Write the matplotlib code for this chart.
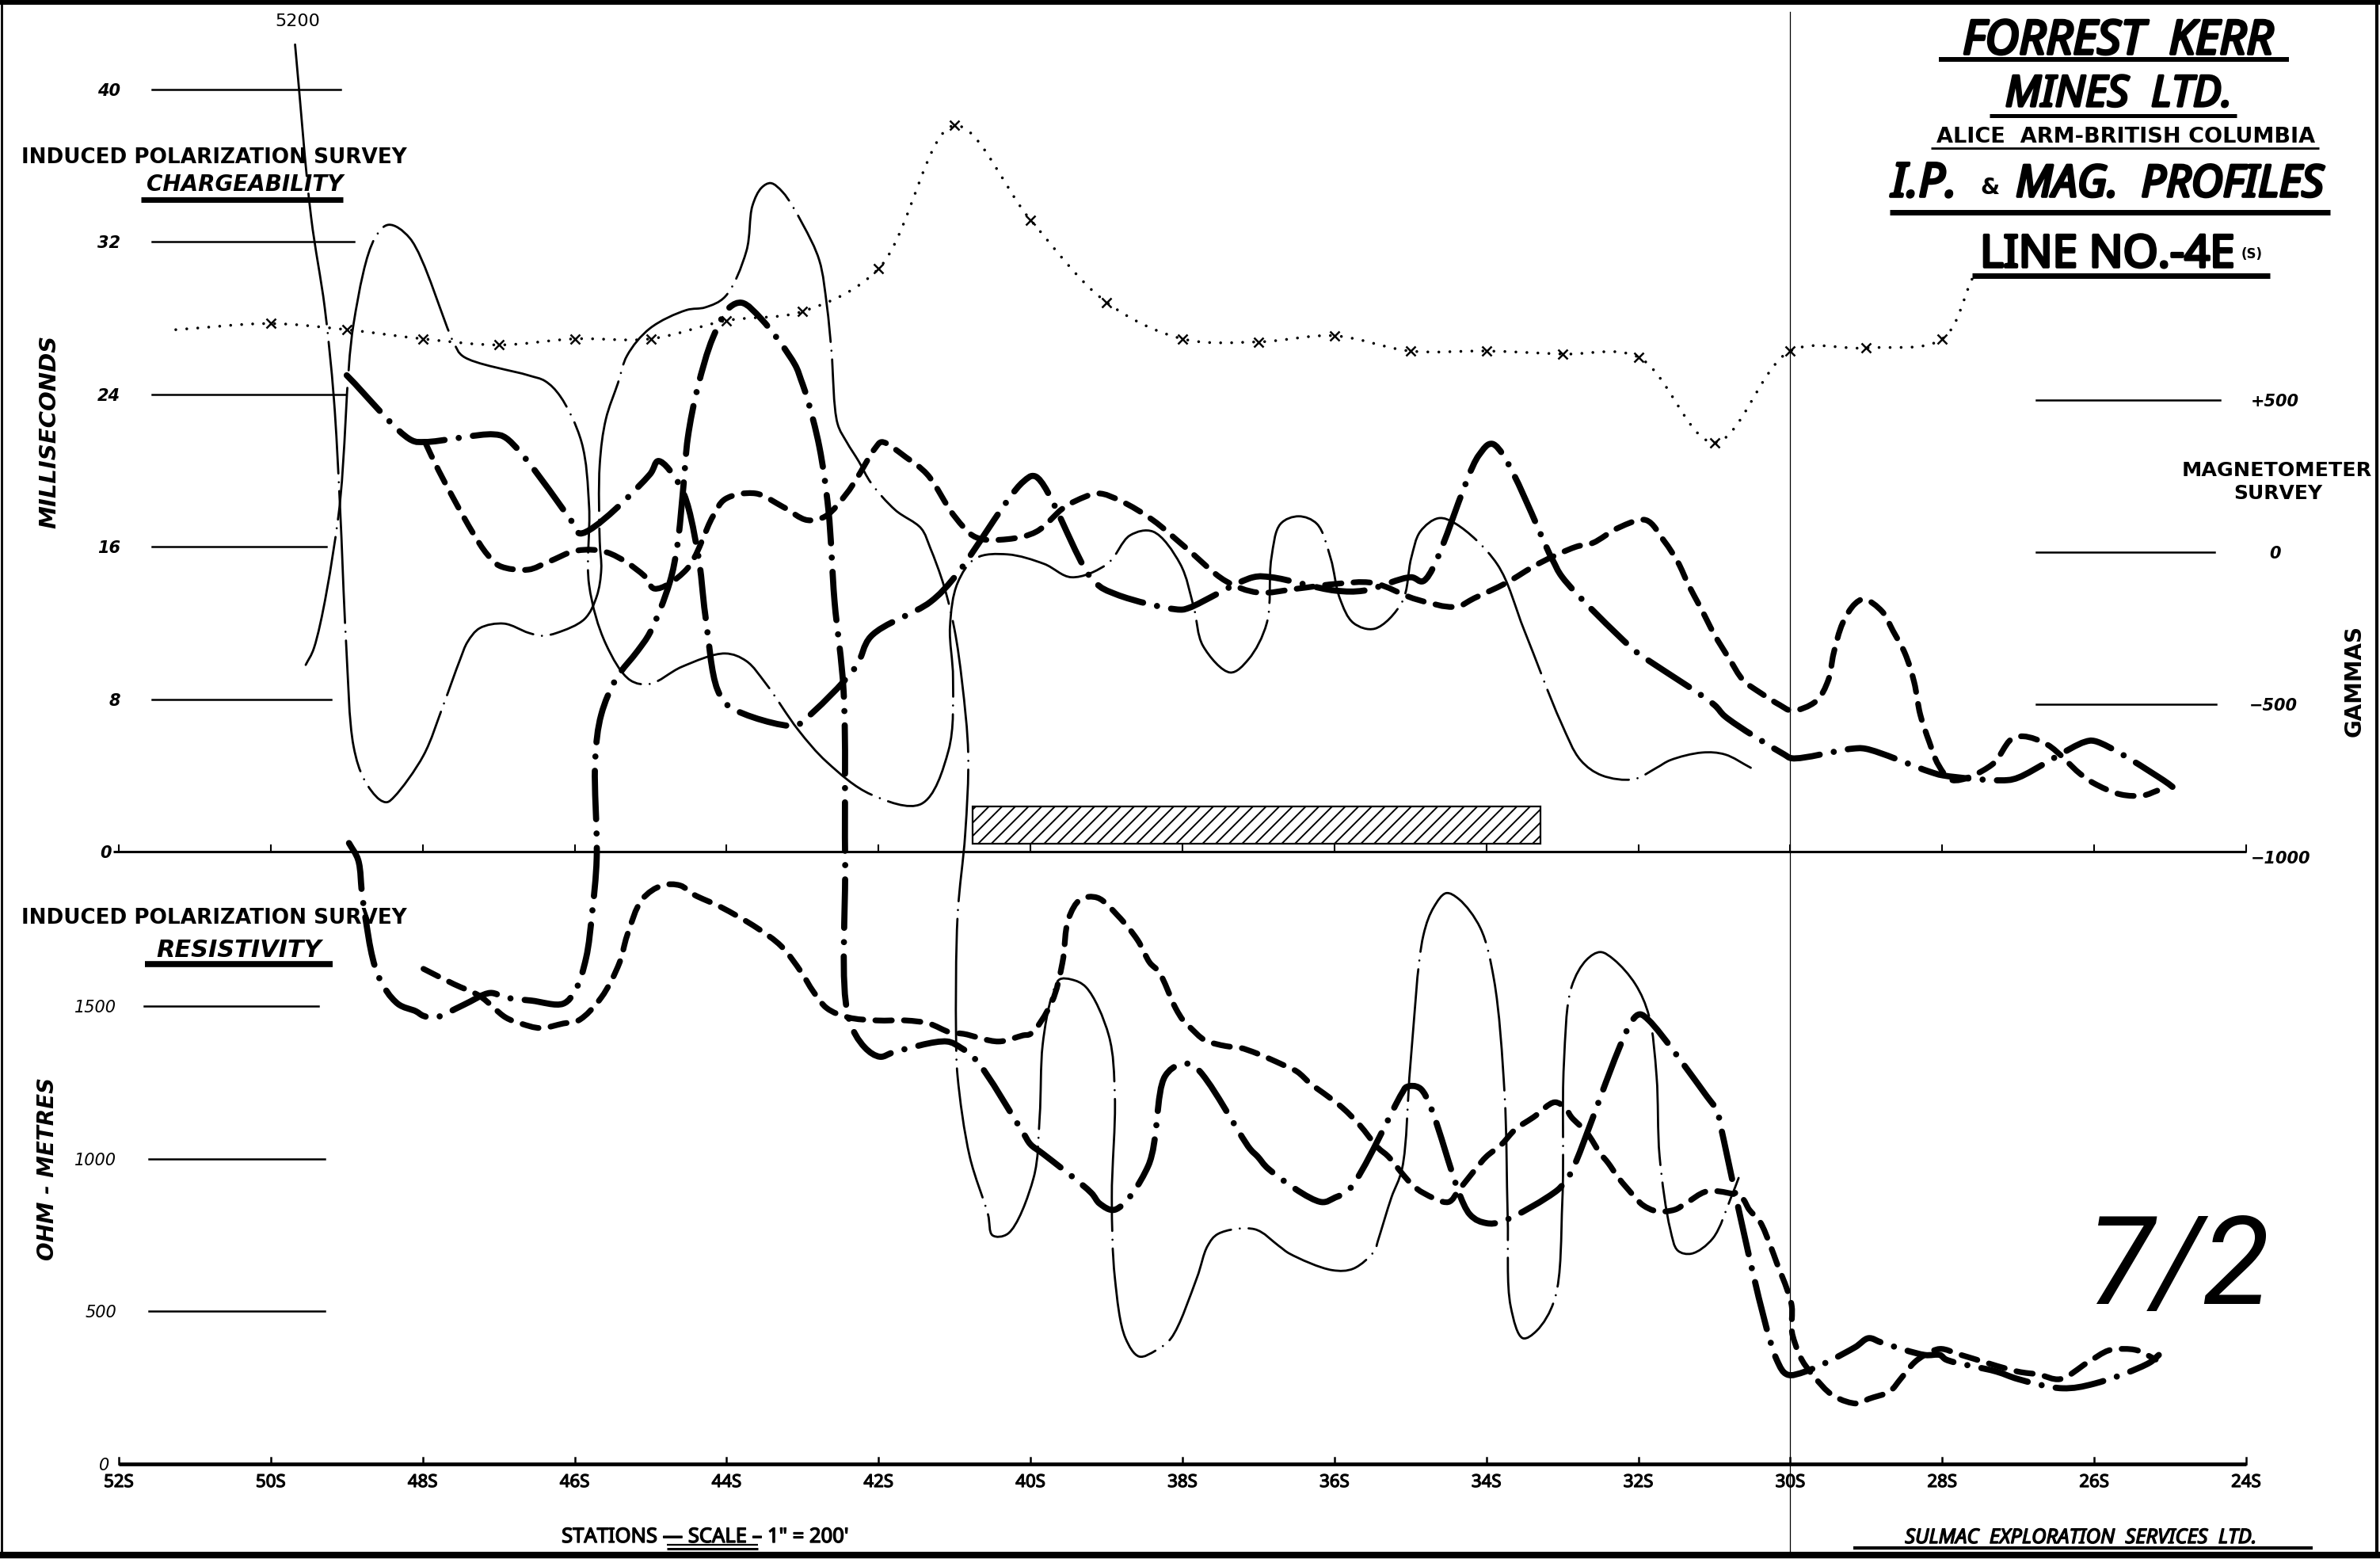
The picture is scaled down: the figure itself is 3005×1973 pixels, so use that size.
import numpy as np
import matplotlib
matplotlib.use("Agg")
import matplotlib.pyplot as plt
from matplotlib.path import Path
from matplotlib.patches import PathPatch, Rectangle
from matplotlib.lines import Line2D
import matplotlib.transforms as mtransforms
import matplotlib.patheffects as pe
import logging
logging.getLogger('matplotlib.font_manager').setLevel(logging.ERROR)

plt.rcParams['lines.scale_dashes'] = False
plt.rcParams['hatch.linewidth'] = 1.4

# ------------------------------------------------------------------ data
station_ticks = [52, 50, 48, 46, 44, 42, 40, 38, 36, 34, 32, 30, 28, 26, 24]
station_labels = ["52S", "50S", "48S", "46S", "44S", "42S", "40S", "38S",
                  "36S", "34S", "32S", "30S", "28S", "26S", "24S"]
chg_ticks = [40, 32, 24, 16, 8]
res_ticks = [1500, 1000, 500]
mag_ticks = [500, 0, -500]
mag_tick_labels = ["+500", "0", "\u2212500"]
anomaly_zone = [40.76, 33.29]          # hatched bar (stations)

# magnetometer (station, gammas)
mag = [(51.25, 730), (50, 750), (49, 730), (48, 700), (47, 680), (46, 700),
       (45, 700), (44, 760), (43, 790), (42, 930), (41, 1400), (40, 1090),
       (39, 820), (38, 700), (37, 690), (36, 710), (35, 660), (34, 660),
       (33, 650), (32, 640), (31, 360), (30, 660), (29, 670), (28, 700),
       (27.6, 900)]

# chargeability (station, milliseconds)
chg_1 = [(49.0, 25.0), (48.15, 21.6), (47.97, 21.5), (47.07, 21.9), (46.9, 21.7),
         (46.05, 17.4), (45.93, 16.7), (45.01, 19.8), (44.9, 20.5), (44.6, 19.1),
         (44.38, 15.7), (44.28, 12.4), (44.12, 8.5), (43.96, 7.6), (43.1, 6.6),
         (42.98, 6.9), (42.3, 9.7), (42.1, 11.3), (41.32, 13.1), (41.0, 14.4),
         (40.1, 19.4), (39.94, 19.7), (39.17, 14.2), (38.87, 13.5), (38.03, 12.7),
         (37.91, 12.8), (37.07, 14.4), (36.83, 14.4), (35.99, 13.7), (35.61, 13.7),
         (34.99, 14.4), (34.83, 14.2), (34.1, 20.8), (33.92, 21.4), (33.14, 15.4),
         (33.0, 14.4), (32.12, 10.8), (32.0, 10.4), (31.0, 7.7), (30.86, 7.1),
         (30.08, 5.1), (29.98, 4.9), (29.19, 5.4), (29.01, 5.4), (28.17, 4.2),
         (27.99, 4.0), (27.15, 3.75), (26.99, 3.9), (26.13, 5.75), (25.99, 5.8),
         (25.09, 3.75), (24.97, 3.4)]
chg_2 = [(47.97, 21.5), (47.79, 20.0), (47.35, 16.8), (47.15, 15.6), (46.99, 15.0),
         (46.61, 14.8), (46.35, 15.2), (45.97, 15.8), (45.57, 15.7), (45.09, 14.5),
         (44.95, 13.8), (44.53, 14.8), (44.18, 17.6), (44.02, 18.5), (43.62, 18.8),
         (43.26, 18.1), (42.94, 17.4), (42.7, 17.6), (42.42, 18.8), (42.3, 19.5),
         (42.04, 21.2), (41.96, 21.5), (41.64, 20.7), (41.36, 19.8), (41.0, 17.6),
         (40.72, 16.5), (40.3, 16.4), (39.92, 16.8), (39.58, 18.0), (39.41, 18.4),
         (39.11, 18.8), (38.81, 18.4), (38.39, 17.4), (37.97, 16.0), (37.43, 14.2),
         (37.01, 13.6), (36.49, 13.8), (35.99, 14.05), (35.49, 14.1), (34.93, 13.25),
         (34.4, 12.85), (34.16, 13.3), (33.74, 14.1), (33.32, 15.1), (32.82, 16.0),
         (32.6, 16.2), (32.26, 17.0), (31.9, 17.4), (31.66, 16.3), (31.48, 15.2),
         (31.34, 14.0), (31.18, 12.8), (31.0, 11.4), (30.8, 10.1), (30.62, 9.0),
         (30.38, 8.3), (30.14, 7.7), (29.98, 7.4), (29.66, 7.9), (29.5, 9.0),
         (29.43, 10.4), (29.31, 12.0), (29.15, 13.0), (29.03, 13.25), (28.79, 12.6),
         (28.65, 11.6), (28.49, 10.4), (28.37, 8.9), (28.29, 7.2), (28.17, 5.75),
         (28.05, 4.55), (27.87, 3.75), (27.35, 4.55), (27.09, 5.9), (26.93, 6.05),
         (26.61, 5.6), (26.19, 4.1), (26.01, 3.6), (25.65, 3.0), (25.35, 2.95),
         (25.17, 3.2)]
chg_3 = [(49.54, 9.8), (49.43, 10.7), (49.11, 17.6), (48.91, 27.7), (48.63, 32.2),
         (48.45, 32.9), (48.17, 32.2), (47.59, 26.7), (47.47, 26.0), (46.61, 25.0),
         (46.39, 24.7), (46.19, 23.9), (45.91, 21.5), (45.81, 18.1), (45.81, 14.0),
         (45.59, 10.9), (45.27, 9.0), (45.01, 8.8), (44.59, 9.7), (44.02, 10.4),
         (43.74, 10.0), (43.48, 8.8), (43.06, 6.4), (42.68, 4.7), (42.1, 3.0),
         (41.44, 2.5), (41.08, 5.3), (41.02, 9.1), (41.06, 11.8), (40.96, 14.1),
         (40.72, 15.4), (40.3, 15.6), (39.82, 15.1), (39.46, 14.4), (38.99, 15.1),
         (38.69, 16.6), (38.39, 16.8), (38.03, 15.1), (37.85, 12.8), (37.73, 10.8),
         (37.37, 9.4), (37.13, 10.1), (36.89, 12.0), (36.83, 15.4), (36.71, 17.2),
         (36.47, 17.6), (36.23, 17.2), (36.05, 15.4), (35.93, 13.3), (35.75, 12.0),
         (35.47, 11.7), (35.11, 13.1), (34.99, 15.4), (34.87, 16.8), (34.63, 17.5),
         (34.4, 17.2), (33.86, 15.1), (33.5, 11.6), (33.02, 6.8), (32.76, 4.8),
         (32.48, 4.0), (32.06, 3.8), (31.76, 4.4), (31.58, 4.8), (31.16, 5.2),
         (30.86, 5.1), (30.52, 4.4)]

# resistivity (station, ohm-metres)
res_1 = [(48.97, 2034), (48.85, 1979), (48.79, 1850), (48.59, 1602), (48.33, 1508),
         (48.09, 1483), (47.99, 1468), (47.83, 1463), (47.47, 1503), (47.11, 1543),
         (46.91, 1528), (46.57, 1518), (46.15, 1508), (45.99, 1552), (45.85, 1657),
         (45.77, 1805), (45.71, 1984), (45.73, 2306), (45.65, 2455), (45.45, 2574),
         (45.17, 2664), (45.01, 2723), (44.75, 2887), (44.65, 3006), (44.57, 3199),
         (44.51, 3363), (44.38, 3527), (44.18, 3690), (43.96, 3789), (43.8, 3804),
         (43.54, 3750), (43.1, 3601), (43.02, 3551), (42.94, 3492), (42.78, 3333),
         (42.66, 3125), (42.58, 2827), (42.46, 2530), (42.44, 1984), (42.4, 1468),
         (42.18, 1364), (41.98, 1334), (41.8, 1349), (41.1, 1384), (40.92, 1364),
         (40.72, 1324), (40.1, 1086), (40.0, 1047), (39.84, 1017), (39.2, 888),
         (39.09, 853), (38.89, 833), (38.45, 977), (38.23, 1270), (38.03, 1309),
         (37.85, 1304), (37.11, 1032), (37.01, 1007), (36.87, 967), (36.17, 858),
         (35.99, 873), (35.81, 898), (35.11, 1215), (35.05, 1235), (34.87, 1230),
         (34.22, 818), (34.0, 789), (33.8, 794), (33.06, 898), (32.96, 928),
         (32.88, 957), (32.08, 1453), (31.98, 1473), (31.86, 1453), (31.1, 1205),
         (30.96, 1156), (30.92, 1111), (30.18, 342), (30.04, 293), (29.8, 303),
         (29.15, 382), (28.97, 412), (28.79, 397), (28.23, 357), (28.03, 357),
         (27.95, 342), (27.29, 303), (27.0, 278), (26.42, 248), (26.0, 263),
         (25.27, 332), (25.15, 357)]
res_2 = [(47.99, 1622), (47.59, 1572), (47.25, 1533), (46.91, 1463), (46.71, 1443),
         (46.45, 1428), (46.15, 1443), (45.95, 1453), (45.65, 1528), (45.41, 1642),
         (45.31, 1731), (45.11, 1850), (44.85, 1895), (44.61, 1895), (44.43, 1865),
         (44.08, 1825), (43.6, 1756), (43.28, 1696), (43.02, 1612), (42.86, 1548),
         (42.68, 1493), (42.4, 1463), (42.02, 1453), (41.64, 1453), (41.34, 1443),
         (41.06, 1414), (40.88, 1409), (40.42, 1384), (40.1, 1404), (40.0, 1409),
         (39.72, 1513), (39.58, 1642), (39.5, 1786), (39.34, 1850), (39.12, 1855),
         (38.85, 1796), (38.59, 1716), (38.43, 1642), (38.31, 1612), (38.09, 1493),
         (37.99, 1453), (37.89, 1428), (37.71, 1389), (37.43, 1369), (37.25, 1364),
         (37.01, 1344), (36.69, 1309), (36.49, 1285), (36.31, 1245), (36.09, 1205),
         (35.89, 1166), (35.67, 1111), (35.43, 1037), (35.29, 1007), (35.11, 952),
         (34.97, 913), (34.83, 888), (34.5, 858), (34.36, 898), (34.14, 967),
         (34.0, 1007), (33.8, 1047), (33.62, 1096), (33.38, 1136), (33.1, 1185),
         (32.96, 1166), (32.88, 1136), (32.68, 1086), (32.5, 1017), (32.4, 987),
         (32.26, 937), (32.04, 873), (31.94, 848), (31.76, 828), (31.52, 833),
         (31.38, 853), (31.1, 893), (30.82, 888), (30.64, 873), (30.54, 833),
         (30.4, 794), (30.26, 714), (30.18, 660), (30.04, 570), (29.98, 516),
         (29.98, 436), (29.94, 397), (29.85, 342), (29.71, 293), (29.43, 223),
         (29.11, 198), (28.97, 213), (28.69, 238), (28.55, 278), (28.37, 332),
         (28.23, 357), (28.03, 377), (27.75, 357), (27.01, 303), (26.73, 293),
         (26.45, 278), (26.09, 332), (25.81, 372), (25.61, 377), (25.43, 372),
         (25.19, 342)]
res_3 = [(49.68, 5200), (49.47, 4087), (49.29, 3789), (49.17, 3492), (49.09, 3145),
         (49.01, 2698), (48.91, 2351), (48.77, 2242), (48.57, 2177), (48.47, 2168),
         (48.37, 2187), (47.99, 2321), (47.73, 2485), (47.51, 2634), (47.41, 2693),
         (47.25, 2738), (46.93, 2753), (46.61, 2723), (46.43, 2713), (46.23, 2723),
         (45.87, 2768), (45.71, 2842), (45.65, 2931), (45.67, 3021), (45.67, 3274),
         (45.59, 3422), (45.43, 3541), (45.31, 3631), (45.01, 3720), (44.53, 3780),
         (44.28, 3789), (44.02, 3824), (43.74, 3973), (43.66, 4122), (43.54, 4181),
         (43.42, 4196), (43.26, 4166), (43.0, 4062), (42.78, 3943), (42.68, 3794),
         (42.62, 3646), (42.54, 3408), (42.42, 3348), (42.26, 3284), (42.1, 3214),
         (41.78, 3125), (41.44, 3065), (41.32, 3001), (41.14, 2877), (41.0, 2733),
         (40.9, 2559), (40.82, 2326), (40.86, 2063), (40.96, 1796), (40.98, 1404),
         (40.96, 1270), (40.8, 1007), (40.56, 818), (40.5, 749), (40.3, 754),
         (39.96, 937), (39.88, 1136), (39.84, 1374), (39.72, 1533), (39.62, 1587),
         (39.46, 1587), (39.27, 1562), (38.97, 1404), (38.89, 1205), (38.93, 873),
         (38.89, 610), (38.75, 412), (38.57, 352), (38.35, 372), (38.15, 412),
         (37.81, 610), (37.67, 714), (37.53, 754), (37.05, 769), (36.73, 714),
         (36.59, 689), (36.03, 635), (35.75, 640), (35.47, 699), (35.43, 729),
         (35.25, 873), (35.11, 967), (35.0, 1309), (34.83, 1731), (34.69, 1825),
         (34.53, 1870), (34.36, 1850), (34.08, 1756), (33.9, 1587), (33.76, 1210),
         (33.72, 813), (33.68, 516), (33.52, 412), (33.34, 436), (33.1, 541),
         (33.0, 863), (32.98, 1309), (32.88, 1562), (32.68, 1652), (32.5, 1677),
         (32.32, 1652), (32.04, 1572), (31.86, 1468), (31.76, 1270), (31.72, 1007),
         (31.58, 769), (31.48, 699), (31.3, 689), (31.02, 739), (30.78, 873),
         (30.68, 937)]
RES_DRAW_CAP = 4650   # off-scale values are drawn up to here and labelled

# ------------------------------------------------------------------ figure
W, H = 3005, 1973
fig = plt.figure(figsize=(W / 100, H / 100), dpi=100)
fig.patch.set_facecolor('white')
renderer = fig.canvas.get_renderer()

X0_PX, X1_PX = 150, 2836          # pixel columns of stations 52 and 24
PPS = (X1_PX - X0_PX) / (52 - 24)
XLIM = (52 + X0_PX / PPS, 24 - (W - X1_PX) / PPS)


def st_at(px):
    return 52 - (px - X0_PX) / PPS


def make_ax(zero_px, px_per_unit):
    ax = fig.add_axes([0, 0, 1, 1])
    ax.set_xlim(*XLIM)
    ax.set_ylim(-(H - zero_px) / px_per_unit, zero_px / px_per_unit)
    ax.axis('off')
    ax.patch.set_alpha(0)
    return ax


RES_PPU = 578 / 1500
CHG_PPU = 24.05
MAG_PPU = 0.3847
ax_res = make_ax(1848, RES_PPU)
ax_chg = make_ax(1075, CHG_PPU)
ax_mag = make_ax(697, MAG_PPU)


def smooth_path(ax, xs, ys, alpha=0.5):
    pts = ax.transData.transform(np.column_stack([xs, ys]))
    n = len(pts)
    P = np.vstack([2 * pts[0] - pts[1], pts, 2 * pts[-1] - pts[-2]])
    verts = [pts[0]]
    codes = [Path.MOVETO]
    for k in range(n - 1):
        p0, p1, p2, p3 = P[k], P[k + 1], P[k + 2], P[k + 3]
        d1 = max(np.linalg.norm(p1 - p0) ** alpha, 1e-6)
        d2 = max(np.linalg.norm(p2 - p1) ** alpha, 1e-6)
        d3 = max(np.linalg.norm(p3 - p2) ** alpha, 1e-6)
        b1 = (d1 ** 2 * p2 - d2 ** 2 * p0 + (2 * d1 ** 2 + 3 * d1 * d2 + d2 ** 2) * p1) / (3 * d1 * (d1 + d2))
        b2 = (d3 ** 2 * p1 - d2 ** 2 * p3 + (2 * d3 ** 2 + 3 * d3 * d2 + d2 ** 2) * p2) / (3 * d3 * (d3 + d2))
        verts += [b1, b2, p2]
        codes += [Path.CURVE4] * 3
    verts = ax.transData.inverted().transform(np.array(verts))
    return Path(verts, codes)


def draw_curve(ax, pts, lw, ls, cap=None):
    xs = np.array([p[0] for p in pts], float)
    ys = np.array([p[1] for p in pts], float)
    if cap is not None:
        ys = np.minimum(ys, cap)
    ax.add_patch(PathPatch(smooth_path(ax, xs, ys), fill=False, lw=lw,
                           linestyle=ls, edgecolor='black', capstyle='round',
                           joinstyle='round'))


LONG_DASH_DOT = (0, (44, 13, 0.01, 13))
SHORT_DASH = (0, (15, 11))
THIN_DASH_DOT = (0, (120, 8, 0.01, 8))

# ---- curves
draw_curve(ax_mag, mag, 2.6, (0, (0.01, 10)))
mx = [s for s, g in mag if float(s).is_integer()]
my = [g for s, g in mag if float(s).is_integer()]
ax_mag.plot(mx, my, 'x', color='black', ms=8, mew=1.8)

draw_curve(ax_chg, chg_1, 5.6, LONG_DASH_DOT)
draw_curve(ax_chg, chg_2, 5.2, SHORT_DASH)
draw_curve(ax_chg, chg_3, 2.0, THIN_DASH_DOT)

draw_curve(ax_res, res_1, 5.6, LONG_DASH_DOT)
draw_curve(ax_res, res_2, 5.2, SHORT_DASH)
draw_curve(ax_res, res_3, 2.0, THIN_DASH_DOT, cap=RES_DRAW_CAP)
# off-scale label
for s, v in res_3:
    if v > RES_DRAW_CAP:
        ax_res.annotate(f"{v:d}", (s, RES_DRAW_CAP), xytext=(2, 21),
                        textcoords='offset points', ha='center', va='center',
                        fontsize=16, family='DejaVu Sans')

# ---- axes / baselines
ax_chg.plot([st_at(143), 24], [0, 0], color='black', lw=2.2, solid_capstyle='butt')
for s in station_ticks:
    ax_chg.plot([s, s], [0, 8 / CHG_PPU], color='black', lw=1.5)
ax_res.plot([52, 24], [0, 0], color='black', lw=3.4, solid_capstyle='butt')
for s in station_ticks:
    ax_res.plot([s, s], [0, 22], color='black', lw=1.8)

COND = ['Noto Sans Condensed', 'Liberation Sans Narrow', 'Noto Sans', 'DejaVu Sans']
DV = ['DejaVu Sans']

xt_res = ax_res.get_xaxis_transform()
for s, lab in zip(station_ticks, station_labels):
    ax_res.text(s, 1 - 1877 / H, lab, transform=xt_res, ha='center', va='baseline',
                fontsize=16, fontweight='bold', family=COND, fontstretch='condensed',
                path_effects=[pe.withStroke(linewidth=0.9, foreground='black')])

# fold line at 30S
ax_res.plot([30, 30], [1 - 15 / H, 1 - 1963 / H], transform=xt_res, color='black', lw=0.9)

# anomaly bar
za, zb = min(anomaly_zone), max(anomaly_zone)
ax_chg.add_patch(Rectangle((za, 0.42), zb - za, 1.95, fill=False, hatch='//',
                           lw=1.6, edgecolor='black'))

# tick bars and labels
bl_chg = mtransforms.blended_transform_factory(fig.transFigure, ax_chg.transData)
bl_res = mtransforms.blended_transform_factory(fig.transFigure, ax_res.transData)
bl_mag = mtransforms.blended_transform_factory(fig.transFigure, ax_mag.transData)
chg_bar_end = [430, 447, 437, 412, 418]
for v, xe in zip(chg_ticks, chg_bar_end):
    ax_chg.plot([192 / W, xe / W], [v, v], transform=bl_chg, color='black', lw=1.8)
    ax_chg.text(152 / W, v, str(v), transform=bl_chg, ha='right', va='center_baseline',
                fontsize=15, fontweight='bold', fontstyle='italic', family='DejaVu Sans')
ax_chg.text(141 / W, 0, "0", transform=bl_chg, ha='right', va='center_baseline',
            fontsize=15, fontweight='bold', fontstyle='italic', family='DejaVu Sans')
res_bar = [(182, 402), (188, 410), (188, 410)]
for v, (xa, xe) in zip(res_ticks, res_bar):
    ax_res.plot([xa / W, xe / W], [v, v], transform=bl_res, color='black', lw=1.8)
    ax_res.text(147 / W, v, str(v), transform=bl_res, ha='right', va='center_baseline',
                fontsize=15, fontstyle='italic', family='DejaVu Sans')
ax_res.text(138 / W, 0, "0", transform=bl_res, ha='right', va='center_baseline',
            fontsize=15, fontstyle='italic', family='DejaVu Sans')
mag_bar_end = [2803, 2796, 2798]
mag_lab_x = [2842, 2865, 2840]
for v, xe, lab, lx in zip(mag_ticks, mag_bar_end, mag_tick_labels, mag_lab_x):
    ax_mag.plot([2571 / W, xe / W], [v, v], transform=bl_mag, color='black', lw=1.8)
    ax_mag.text(lx / W, v, lab, transform=bl_mag, ha='left', va='center_baseline',
                fontsize=15, fontweight='bold', fontstyle='italic', family='DejaVu Sans')
ax_mag.text(2842 / W, -1000, "\u22121000", transform=bl_mag, ha='left', va='center_baseline',
            fontsize=15, fontweight='bold', fontstyle='italic', family='DejaVu Sans')

# ------------------------------------------------------------------ text


def ftext(x, y, s, size, ha='center', va='baseline', weight='bold', style='normal',
          family=DV, rotation=0, fit=None, stretch='normal', stroke=None):
    t = fig.text(x / W, 1 - y / H, s, fontsize=size, ha=ha, va=va, fontweight=weight,
                 fontstyle=style, family=family, rotation=rotation, color='black',
                 fontstretch=stretch)
    if fit:
        w = t.get_window_extent(renderer).width
        if w > 0:
            t.set_fontsize(size * float(np.clip(fit / w, 0.55, 1.15)))
    if stroke:
        t.set_path_effects([pe.withStroke(linewidth=stroke, foreground='black')])
    return t


def fline(x0, x1, y0, y1, lw):
    fig.add_artist(Line2D([x0 / W, x1 / W], [1 - y0 / H, 1 - y1 / H], lw=lw,
                          color='black', solid_capstyle='butt'))


# title block
ftext(2674, 68, "FORREST  KERR", 42, style='italic', family=COND, stretch='condensed',
      fit=392, stroke=2.6)
fline(2448, 2890, 75, 75, 4.3)
ftext(2675, 134, "MINES  LTD.", 38, style='italic', family=COND, stretch='condensed',
      fit=287, stroke=2.4)
fline(2512, 2824, 146, 146, 3.6)
ftext(2684, 180, "ALICE  ARM-BRITISH COLUMBIA", 17, fit=476)
fline(2438, 2928, 187, 187, 2.0)
ftext(2388, 248, "I.P.", 37, ha='left', style='italic', family=COND, stretch='condensed',
      fit=90, stroke=2.6)
ftext(2500, 245, "&", 20, ha='left', family=DV)
ftext(2545, 248, "MAG.  PROFILES", 37, ha='left', style='italic', family=COND,
      stretch='condensed', fit=389, stroke=2.6)
fline(2386, 2942, 268, 268, 5.0)
ftext(2500, 337, "LINE NO.-4E", 37, ha='left', family=COND, stretch='condensed',
      fit=322, stroke=2.6)
ftext(2830, 326, "(S)", 12, ha='left')
fline(2490, 2866, 348, 348, 5.0)

# left labels
ftext(27, 206, "INDUCED POLARIZATION SURVEY", 18, ha='left', fit=487)
ftext(185, 241, "CHARGEABILITY", 18, ha='left', style='italic', fit=248)
fline(178, 433, 252, 252, 5.0)
ftext(62, 545, "MILLISECONDS", 21, va='center', style='italic', rotation=90)
ftext(27, 1166, "INDUCED POLARIZATION SURVEY", 18, ha='left', fit=487)
ftext(197, 1208, "RESISTIVITY", 19, ha='left', style='italic', fit=220)
fline(183, 420, 1217, 1217, 5.5)
ftext(60, 1475, "OHM - METRES", 20, va='center', style='italic', rotation=90)

# right labels
ftext(2875, 601, "MAGNETOMETER", 18, fit=240)
ftext(2876, 630, "SURVEY", 18)
ftext(2973, 860, "GAMMAS", 20, va='center', rotation=90)

# bottom
ftext(890, 1947, "STATIONS \u2014 SCALE \u2013 1\" = 200'", 16, family=COND,
      stretch='condensed', fit=430, stroke=1.0)
fline(842, 957, 1950, 1950, 1.6)
fline(842, 957, 1955, 1955, 2.2)
ftext(2627, 1948, "SULMAC  EXPLORATION  SERVICES  LTD.", 16, style='italic', family=COND,
      stretch='condensed', fit=585, stroke=1.0)
fline(2340, 2920, 1954, 1954, 3.0)

# handwritten sheet number
ftext(2750, 1646, "7/2", 112, weight='normal', style='italic',
      family=['Roboto', 'Lato', 'DejaVu Sans'])

# page frame
fline(0, W, 3, 3, 4.3)
fline(2, 2, 0, 1966, 2.0)
fline(3001, 3001, 0, 1966, 3.0)
fline(0, W, 1963, 1963, 6.0)

fig.savefig('out.png', dpi=100, facecolor='white')
